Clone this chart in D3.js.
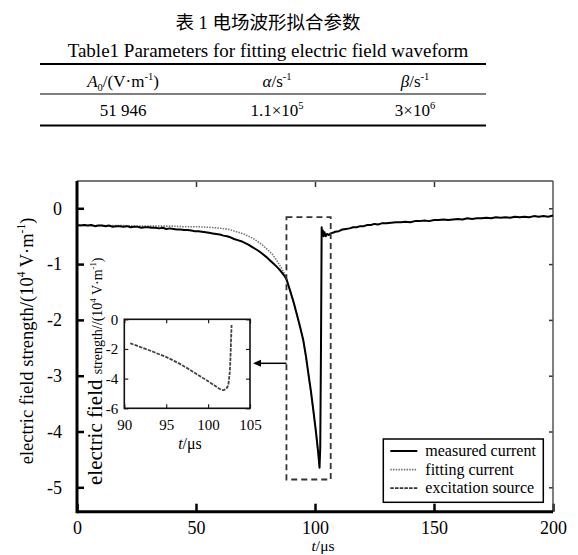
<!DOCTYPE html>
<html>
<head>
<meta charset="utf-8">
<script src="https://cdn.jsdelivr.net/npm/d3@7"></script>
<style>
  body { margin: 0; background: #fff; }
  svg { display: block; font-family: "Liberation Serif", "Times New Roman", "Noto Sans CJK SC", serif; }
</style>
</head>
<body>
<script>
// dados
var xTicks = [0, 50, 100, 150, 200];
var yTicks = [0, -1, -2, -3, -4, -5];
var insetXTicks = [90, 95, 100, 105];
var insetYTicks = [0, -2, -4, -6];
var legendLabels = ["measured current", "fitting current", "excitation source"];

var tableTitleZh = "表 1  电场波形拟合参数";
var tableTitleEn = "Table1 Parameters for fitting electric field waveform";
var tableHead = [
  [["A", "i"], ["0", "sub"], ["/(V·m", ""], ["-1", "sup"], [")", ""]],
  [["α", "i"], ["/s", ""], ["-1", "sup"]],
  [["β", "i"], ["/s", ""], ["-1", "sup"]]
];
var tableRow = [
  [["51 946", ""]],
  [["1.1×10", ""], ["5", "sup"]],
  [["3×10", ""], ["6", "sup"]]
];

// measured current [t (us), E (10^4 V/m)]
var measured = [
  [0,-0.30],[1.5,-0.31],[3,-0.30],[4.5,-0.31],[6,-0.30],[7.5,-0.32],[9,-0.31],[10.5,-0.31],
  [12,-0.32],[13.5,-0.31],[15,-0.33],[16.5,-0.32],[18,-0.32],[19.5,-0.33],[21,-0.32],[22.5,-0.34],
  [24,-0.33],[25.5,-0.33],[27,-0.35],[28.5,-0.34],[30,-0.34],[31.5,-0.35],[33,-0.35],[34.5,-0.36],
  [36,-0.35],[37.5,-0.37],[39,-0.36],[40.5,-0.37],[42,-0.38],[43.5,-0.38],[45,-0.39],[46.5,-0.39],
  [48,-0.40],[49.5,-0.41],[51,-0.41],[52.5,-0.42],[54,-0.43],[55.5,-0.44],[57,-0.45],[58.5,-0.46],
  [60,-0.47],[61.5,-0.49],[63,-0.50],[64.5,-0.52],[66,-0.55],[67.5,-0.57],[69,-0.59],[70.5,-0.62],
  [72,-0.65],[73.5,-0.69],[75,-0.73],[76.5,-0.77],[78,-0.82],[79.5,-0.87],[81,-0.93],[82.5,-0.99],
  [84,-1.05],[85.5,-1.12],[87,-1.20],[88,-1.27],[89.5,-1.47],[91,-1.68],[92.3,-1.89],[93.7,-2.12],
  [95.1,-2.37],[96.2,-2.65],[97.2,-2.96],[98.3,-3.28],[99.3,-3.62],[100.4,-4.00],[101.4,-4.40],
  [101.9,-4.65],[102.2,-4.30],[102.5,-2.60],[102.8,-0.34],[103.0,-0.48],[103.3,-0.40],[103.6,-0.50],
  [104.0,-0.43],[104.5,-0.50],[105.0,-0.46],[105.8,-0.48],[106.5,-0.45],[107.5,-0.44],[108.5,-0.42],
  [110,-0.41],[111.5,-0.38],[113,-0.37],[114.5,-0.36],[116,-0.34],[117.5,-0.34],[119,-0.32],
  [120.5,-0.32],[122,-0.30],[123.5,-0.30],[125,-0.28],[126.5,-0.29],[128,-0.27],[130,-0.27],
  [132,-0.26],[134,-0.25],[136,-0.25],[138,-0.24],[140,-0.25],[142,-0.23],[144,-0.23],[146,-0.22],
  [148,-0.23],[150,-0.21],[152,-0.21],[154,-0.20],[156,-0.21],[158,-0.20],[160,-0.19],[162,-0.20],
  [164,-0.18],[166,-0.19],[168,-0.18],[170,-0.18],[172,-0.17],[174,-0.18],[176,-0.16],[178,-0.17],
  [180,-0.16],[182,-0.17],[184,-0.15],[186,-0.16],[188,-0.15],[190,-0.16],[192,-0.14],[194,-0.15],
  [196,-0.14],[198,-0.15],[200,-0.13]
];

// fitting current
var fitting = [
  [0,-0.30],[5,-0.31],[10,-0.31],[15,-0.31],[20,-0.31],[25,-0.32],[30,-0.32],[35,-0.32],[40,-0.32],
  [45,-0.33],[50,-0.33],[55,-0.34],[58,-0.35],[61,-0.36],[64,-0.38],[67,-0.42],[70,-0.46],[72,-0.50],
  [74,-0.54],[76,-0.60],[78,-0.66],[80,-0.74],[82,-0.82],[84,-0.94],[86,-1.08],[87.4,-1.19],
  [89.5,-1.47],[92.3,-1.89],[95.1,-2.37],[97.2,-2.96],[99.3,-3.62],[101.4,-4.40],[101.9,-4.65]
];

// excitation source (inset)
var excitation = [
  [90.7,-1.62],[91.5,-1.78],[92.2,-1.93],[92.9,-2.07],[94,-2.32],[94.9,-2.52],[96,-2.82],[96.85,-3.08],
  [97.8,-3.40],[98.8,-3.76],[99.6,-4.03],[100.4,-4.32],[101,-4.55],[101.4,-4.70],[101.8,-4.77],
  [102.1,-4.70],[102.4,-4.43],[102.5,-4.00],[102.6,-3.42],[102.7,-2.07],[102.75,-1.20],[102.8,-0.38]
];

// zoom window in data units
var zoomT = [88, 106.6];
var zoomE = [-0.16, -4.86];

var svg = d3.select("body").append("svg").attr("width", 578).attr("height", 555);

// texto com sub/sobrescrito
function rich(sel, parts, size) {
  var shift = 0;
  parts.forEach(function(p) {
    var fs = p[2] || size;
    var ts = sel.append("tspan").text(p[0]);
    var target = 0;
    if (p[1] == "i") ts.attr("font-style", "italic");
    if (p[1] == "sup") { fs = fs * 0.62; target = -size * 0.42; }
    if (p[1] == "sub") { fs = fs * 0.62; target = size * 0.22; }
    ts.attr("font-size", fs).attr("dy", target - shift);
    shift = target;
  });
}

// ---- tabela ----
svg.append("text").attr("x", 268).attr("y", 29).attr("text-anchor", "middle")
  .attr("font-size", 18.5).text(tableTitleZh);
svg.append("text").attr("x", 268).attr("y", 57).attr("text-anchor", "middle")
  .attr("font-size", 19).text(tableTitleEn);
svg.append("line").attr("x1", 40).attr("x2", 486).attr("y1", 64).attr("y2", 64)
  .attr("stroke", "#000").attr("stroke-width", 2);
svg.append("line").attr("x1", 40).attr("x2", 486).attr("y1", 94).attr("y2", 94)
  .attr("stroke", "#000").attr("stroke-width", 1.2);
svg.append("line").attr("x1", 40).attr("x2", 486).attr("y1", 125.5).attr("y2", 125.5)
  .attr("stroke", "#000").attr("stroke-width", 2);
var colX = [123, 277, 415];
tableHead.forEach(function(c, i) {
  var t = svg.append("text").attr("x", colX[i]).attr("y", 87).attr("text-anchor", "middle").attr("font-size", 17);
  rich(t, c, 17);
});
tableRow.forEach(function(c, i) {
  var t = svg.append("text").attr("x", colX[i]).attr("y", 116).attr("text-anchor", "middle").attr("font-size", 17);
  rich(t, c, 17);
});

// ---- grafico principal ----
var x = d3.scaleLinear().domain([0, 200]).range([77, 553]);
var y = d3.scaleLinear().domain([-5.437, 0.489]).range([511.7, 181]);
var fmt = function(d) { return String(d); };

// eixos com ticks para dentro
var gl = svg.append("g").attr("transform", "translate(77,0)")
  .call(d3.axisLeft(y).tickValues(yTicks).tickSizeInner(-7).tickSizeOuter(0).tickPadding(15).tickFormat(fmt));
var gb = svg.append("g").attr("transform", "translate(0,511.7)")
  .call(d3.axisBottom(x).tickValues(xTicks).tickSizeInner(-8).tickSizeOuter(0).tickPadding(9.5).tickFormat(fmt));
var gt = svg.append("g").attr("transform", "translate(0,181)")
  .call(d3.axisTop(x).tickValues(xTicks.slice(1, -1)).tickSizeInner(-6).tickSizeOuter(0).tickFormat(""));
var gr = svg.append("g").attr("transform", "translate(553,0)")
  .call(d3.axisRight(y).tickValues(yTicks).tickSizeInner(-4).tickSizeOuter(0).tickFormat(""));
[gl, gb, gt, gr].forEach(function(g) {
  g.attr("font-family", null).attr("font-size", 18);
  g.select(".domain").remove();
  g.selectAll("text").attr("fill", "#000");
});
gl.selectAll(".tick line").attr("stroke", "#000").attr("stroke-width", 2.5);
gb.selectAll(".tick line").attr("stroke", "#000").attr("stroke-width", 2.5);
gt.selectAll(".tick line").attr("stroke", "#333").attr("stroke-width", 1.5);
gr.selectAll(".tick line").attr("stroke", "#333").attr("stroke-width", 1.5);

// moldura
svg.append("line").attr("x1", x(0)).attr("x2", x(200)).attr("y1", y.range()[1]).attr("y2", y.range()[1])
  .attr("stroke", "#777").attr("stroke-width", 2);
svg.append("line").attr("x1", x(200)).attr("x2", x(200)).attr("y1", y.range()[1]).attr("y2", y.range()[0])
  .attr("stroke", "#555").attr("stroke-width", 1.5);
svg.append("line").attr("x1", x(0)).attr("x2", x(200)).attr("y1", y.range()[0]).attr("y2", y.range()[0])
  .attr("stroke", "#000").attr("stroke-width", 3);
svg.append("line").attr("x1", x(0)).attr("x2", x(0)).attr("y1", y.range()[1]).attr("y2", y.range()[0] + 1.5)
  .attr("stroke", "#000").attr("stroke-width", 3);

var line = d3.line().x(function(d) { return x(d[0]); }).y(function(d) { return y(d[1]); });

svg.append("path").datum(fitting).attr("d", line).attr("fill", "none")
  .attr("stroke", "#777").attr("stroke-width", 1.6).attr("stroke-dasharray", "1.5,1.2");
svg.append("path").datum(measured).attr("d", line).attr("fill", "none")
  .attr("stroke", "#000").attr("stroke-width", 2).attr("stroke-linejoin", "round");

// janela tracejada
svg.append("rect").attr("x", x(zoomT[0])).attr("y", y(zoomE[0]))
  .attr("width", x(zoomT[1]) - x(zoomT[0])).attr("height", y(zoomE[1]) - y(zoomE[0]))
  .attr("fill", "none").attr("stroke", "#333").attr("stroke-width", 1.8).attr("stroke-dasharray", "6,4");

// rotulos dos eixos
var yl = svg.append("text").attr("transform", "translate(33,341) rotate(-90)")
  .attr("text-anchor", "middle").attr("font-size", 18.5);
rich(yl, [["electric field strength/(10", ""], ["4", "sup"], [" V·m", ""], ["-1", "sup"], [")", ""]], 18.5);
var xl = svg.append("text").attr("x", 323).attr("y", 551).attr("text-anchor", "middle").attr("font-size", 15.5);
rich(xl, [["t", "i"], ["/μs", ""]], 15.5);

// ---- inset ----
var xi = d3.scaleLinear().domain([90, 105]).range([124.3, 250]);
var yi = d3.scaleLinear().domain([-6, 0]).range([408.3, 319.3]);
svg.append("rect").attr("x", xi(90)).attr("y", yi(0)).attr("width", xi(105) - xi(90)).attr("height", yi(-6) - yi(0))
  .attr("fill", "#fff").attr("stroke", "none");

var il = svg.append("g").attr("transform", "translate(" + xi(90) + ",0)")
  .call(d3.axisLeft(yi).tickValues(insetYTicks).tickSizeInner(-4).tickSizeOuter(0).tickPadding(6).tickFormat(fmt));
var ib = svg.append("g").attr("transform", "translate(0," + yi(-6) + ")")
  .call(d3.axisBottom(xi).tickValues(insetXTicks).tickSizeInner(-4).tickSizeOuter(0).tickPadding(11).tickFormat(fmt));
var it = svg.append("g").attr("transform", "translate(0," + yi(0) + ")")
  .call(d3.axisTop(xi).tickValues(insetXTicks).tickSizeInner(-4).tickSizeOuter(0).tickFormat(""));
var ir = svg.append("g").attr("transform", "translate(" + xi(105) + ",0)")
  .call(d3.axisRight(yi).tickValues(insetYTicks).tickSizeInner(-4).tickSizeOuter(0).tickFormat(""));
[il, ib, it, ir].forEach(function(g) {
  g.attr("font-family", null).attr("font-size", 15);
  g.select(".domain").remove();
  g.selectAll("text").attr("fill", "#000");
  g.selectAll(".tick line").attr("stroke", "#222").attr("stroke-width", 1.2);
});
svg.append("rect").attr("x", xi(90)).attr("y", yi(0)).attr("width", xi(105) - xi(90)).attr("height", yi(-6) - yi(0))
  .attr("fill", "none").attr("stroke", "#111").attr("stroke-width", 1.6);

var lineI = d3.line().x(function(d) { return xi(d[0]); }).y(function(d) { return yi(d[1]); })
  .curve(d3.curveMonotoneX);
svg.append("path").datum(excitation).attr("d", lineI).attr("fill", "none")
  .attr("stroke", "#444").attr("stroke-width", 1.8).attr("stroke-dasharray", "3.5,1.2");

var iyl = svg.append("text").attr("transform", "translate(102,485) rotate(-90)")
  .attr("text-anchor", "start").attr("font-size", 21);
rich(iyl, [["electric field ", "", 21], ["strength//(10", "", 14], ["4", "sup", 14], [" V·m", "", 14], ["-1", "sup", 14], [")", "", 14]], 14);
var ixl = svg.append("text").attr("x", 190).attr("y", 449).attr("text-anchor", "middle").attr("font-size", 16);
rich(ixl, [["t", "i"], ["/μs", ""]], 16);

// seta
svg.append("line").attr("x1", x(zoomT[0])).attr("x2", 259).attr("y1", 363.3).attr("y2", 363.3)
  .attr("stroke", "#000").attr("stroke-width", 1.5);
svg.append("path").attr("d", "M253,363.3 L261,359.8 L261,366.8 Z").attr("fill", "#000");

// ---- legenda ----
var lg = svg.append("g").attr("transform", "translate(383.3,439)");
lg.append("rect").attr("width", 160).attr("height", 63.3).attr("fill", "#fff")
  .attr("stroke", "#000").attr("stroke-width", 1.5);
var legStyle = [
  { c: "#000", w: 2, d: null },
  { c: "#777", w: 1.6, d: "1.5,1.2" },
  { c: "#333", w: 1.8, d: "3.5,1.2" }
];
legendLabels.forEach(function(l, i) {
  var cy = 12 + i * 18.6;
  lg.append("line").attr("x1", 7).attr("x2", 34).attr("y1", cy).attr("y2", cy)
    .attr("stroke", legStyle[i].c).attr("stroke-width", legStyle[i].w).attr("stroke-dasharray", legStyle[i].d);
  lg.append("text").attr("x", 42).attr("y", cy + 5).attr("font-size", 16).text(l);
});
</script>
</body>
</html>
